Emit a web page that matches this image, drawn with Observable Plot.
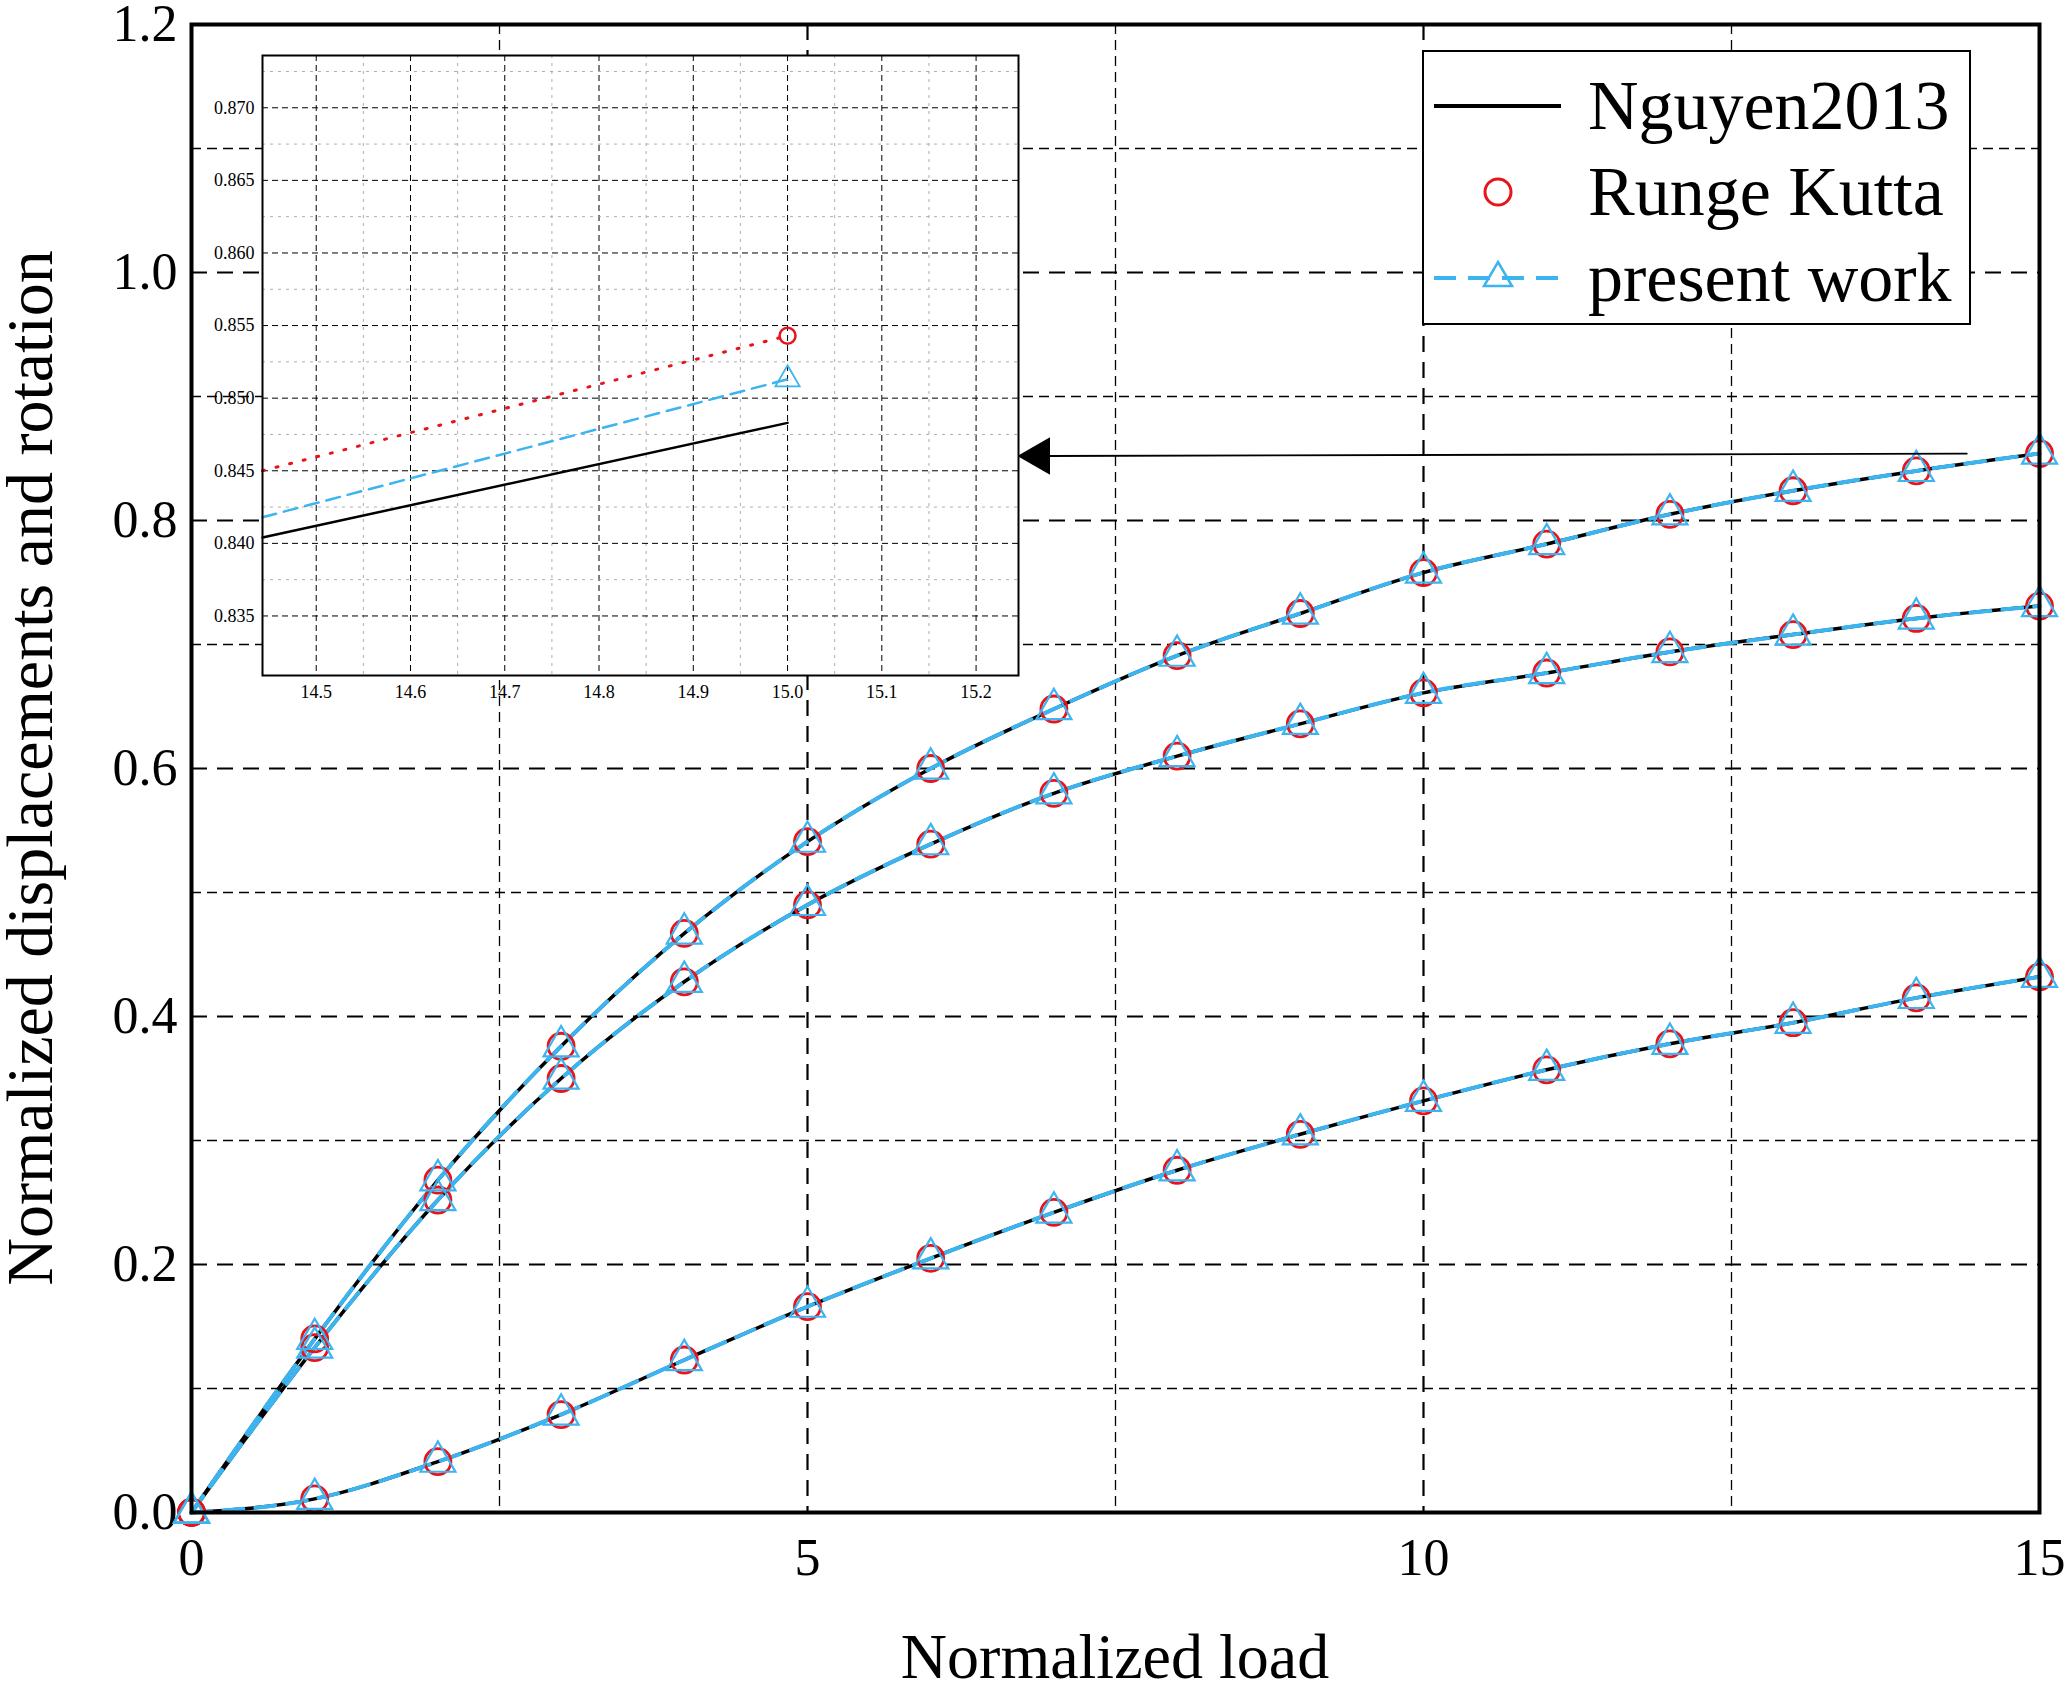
<!DOCTYPE html>
<html><head><meta charset="utf-8">
<script src="https://cdn.jsdelivr.net/npm/d3@7"></script>
<script src="https://cdn.jsdelivr.net/npm/@observablehq/plot@0.6"></script>
<style>
body{margin:0;background:#fff;font-family:"Liberation Serif","Times New Roman",serif;}
#wrap{position:relative;width:2067px;height:1708px;}
#wrap svg{position:absolute;overflow:visible;}
.lbl{position:absolute;font-size:64px;color:#000;white-space:nowrap;}
</style></head>
<body><div id="wrap"></div>
<script>
const loads = [0,1,2,3,4,5,6,7,8,9,10,11,12,13,14,15];
const curveTop = [0,0.140,0.268,0.376,0.467,0.541,0.600,0.648,0.691,0.725,0.758,0.781,0.805,0.824,0.840,0.854];
const curveMid = [0,0.133,0.252,0.350,0.428,0.490,0.539,0.580,0.610,0.636,0.661,0.677,0.694,0.708,0.721,0.731];
const curveBot = [0,0.011,0.041,0.079,0.123,0.166,0.205,0.242,0.276,0.305,0.332,0.357,0.378,0.395,0.415,0.432];
const xTicks = [0,5,10,15];
const yTicks = [0,0.2,0.4,0.6,0.8,1.0,1.2];
const xMinor = [2.5,7.5,12.5];
const yMinor = [0.1,0.3,0.5,0.7,0.9,1.1];
// inset (zoom near load 15 of top curve)
const insetX = [14.443,15.0];
const insetNguyen = [0.8404,0.8483];
const insetRK = [0.8450,0.8543];
const insetPresent = [0.8418,0.8513];
const insetXTicks = [14.5,14.6,14.7,14.8,14.9,15.0,15.1,15.2];
const insetYTicks = [0.835,0.840,0.845,0.850,0.855,0.860,0.865,0.870];

const BLUE = "#3cb4ef", RED = "#e8131b";
const curves = [curveTop,curveMid,curveBot];
const rows = curves.flatMap((c,i)=>loads.map((x,j)=>({x,y:c[j],k:i})));

const wrap = document.getElementById("wrap");
const main = Plot.plot({
  width:2067,height:1708,marginLeft:191,marginRight:28,marginTop:24,marginBottom:196,
  style:{fontFamily:"Liberation Serif, serif",fontSize:"52px",background:"transparent",color:"#000"},
  x:{domain:[0,15],ticks:xTicks,tickSize:0,tickPadding:26,tickFormat:d=>d,label:null},
  y:{domain:[0,1.2],ticks:yTicks,tickSize:0,tickPadding:14,tickFormat:d3.format(".1f"),label:null},
  marks:[
    Plot.ruleX(xMinor,{stroke:"#000",strokeWidth:1.3,strokeDasharray:"10,6"}),
    Plot.ruleY(yMinor,{stroke:"#000",strokeWidth:1.3,strokeDasharray:"10,6"}),
    Plot.ruleX([5,10],{stroke:"#000",strokeWidth:2.2,strokeDasharray:"16,10"}),
    Plot.ruleY([0.2,0.4,0.6,0.8,1.0],{stroke:"#000",strokeWidth:2.2,strokeDasharray:"16,10"}),
    Plot.line(rows,{x:"x",y:"y",z:"k",stroke:"#000",strokeWidth:3.5,curve:"monotone-x"}),
    Plot.line(rows,{x:"x",y:"y",z:"k",stroke:BLUE,strokeWidth:4,strokeDasharray:"20,12",curve:"monotone-x"}),
    Plot.dot(rows,{x:"x",y:"y",r:13,stroke:RED,strokeWidth:2.8}),
    Plot.dot(rows,{x:"x",y:"y",r:13,symbol:"triangle",stroke:BLUE,strokeWidth:2.2}),
    Plot.arrow([{x1:14.41,y1:0.854,x2:6.95,y2:0.852}],{x1:"x1",y1:"y1",x2:"x2",y2:"y2",stroke:"#000",strokeWidth:1.8,headLength:0}),
    Plot.dot([{x:6.88,y:0.852}],{x:"x",y:"y",symbol:"triangle",r:14,rotate:-90,fill:"#000",stroke:"none"}),
    Plot.frame({stroke:"#000",strokeWidth:4})
  ]
});
main.style.left="0px";main.style.top="0px";
wrap.appendChild(main);

const inset = Plot.plot({
  width:838,height:670,marginLeft:72,marginRight:10,marginTop:10,marginBottom:40,
  style:{fontFamily:"Liberation Serif, serif",fontSize:"18px",background:"transparent",color:"#000"},
  x:{domain:[14.443,15.245],ticks:insetXTicks,tickSize:0,tickPadding:10,tickFormat:d3.format(".1f"),label:null},
  y:{domain:[0.8309,0.8736],ticks:insetYTicks,tickSize:0,tickPadding:8,tickFormat:d3.format(".3f"),label:null},
  marks:[
    Plot.frame({fill:"#fff"}),
    Plot.ruleX(insetXTicks,{stroke:"#000",strokeWidth:1,strokeDasharray:"6,4"}),
    Plot.ruleX(insetXTicks.map(d=>d+0.05).filter(d=>d<15.24),{stroke:"#999",strokeWidth:0.8,strokeDasharray:"3,5"}),
    Plot.ruleY(insetYTicks,{stroke:"#000",strokeWidth:1,strokeDasharray:"6,4"}),
    Plot.ruleY(insetYTicks.map(d=>d+0.0025).filter(d=>d<0.873),{stroke:"#999",strokeWidth:0.8,strokeDasharray:"3,5"}),
    Plot.line(insetX.map((x,i)=>({x,y:insetNguyen[i]})),{x:"x",y:"y",stroke:"#000",strokeWidth:2.5}),
    Plot.line(insetX.map((x,i)=>({x,y:insetPresent[i]})),{x:"x",y:"y",stroke:BLUE,strokeWidth:2.5,strokeDasharray:"14,8"}),
    Plot.line(insetX.map((x,i)=>({x,y:insetRK[i]})),{x:"x",y:"y",stroke:RED,strokeWidth:3,strokeDasharray:"2,12"}),
    Plot.dot([{x:15.0,y:insetRK[1]}],{x:"x",y:"y",r:8,stroke:RED,strokeWidth:2.5}),
    Plot.dot([{x:15.0,y:insetPresent[1]}],{x:"x",y:"y",r:9,symbol:"triangle",stroke:BLUE,strokeWidth:1.8}),
    Plot.frame({stroke:"#000",strokeWidth:2})
  ]
});
inset.style.left="190px";inset.style.top="45px";
wrap.appendChild(inset);

// legend
const leg = document.createElement("div");
leg.style.cssText="position:absolute;left:1422px;top:50px;width:549px;height:275px;border:2px solid #000;background:#fff;box-sizing:border-box;";
const items=[["Nguyen2013","black"],["Runge Kutta","rk"],["present work","pw"]];
items.forEach((it,i)=>{
  const r=document.createElement("div");
  r.style.cssText=`position:absolute;left:0;top:${12+i*86}px;height:84px;width:100%;`;
  let sym="";
  if(it[1]==="black") sym=`<line x1="8" y1="42" x2="135" y2="42" stroke="#000" stroke-width="4"/>`;
  if(it[1]==="rk") sym=`<circle cx="72" cy="42" r="13" fill="none" stroke="${RED}" stroke-width="3"/>`;
  if(it[1]==="pw") sym=`<line x1="8" y1="42" x2="135" y2="42" stroke="${BLUE}" stroke-width="4" stroke-dasharray="22,12"/><path d="M72,26 L86,50 L58,50 Z" fill="none" stroke="${BLUE}" stroke-width="2.5"/>`;
  r.innerHTML=`<svg width="140" height="84" style="position:absolute;left:2px;top:0">${sym}</svg><span style="position:absolute;left:164px;top:0px;font-size:70px;line-height:84px;">${it[0]}</span>`;
  leg.appendChild(r);
});
wrap.appendChild(leg);

const xl=document.createElement("div");xl.className="lbl";xl.textContent="Normalized load";
xl.style.left="1115px";xl.style.top="1620px";xl.style.transform="translateX(-50%)";
wrap.appendChild(xl);
const yl=document.createElement("div");yl.className="lbl";yl.textContent="Normalized displacements and rotation";
yl.style.left="30px";yl.style.top="768px";yl.style.transform="translate(-50%,-50%) rotate(-90deg)";
yl.style.fontSize="66px";
wrap.appendChild(yl);
</script></body></html>
